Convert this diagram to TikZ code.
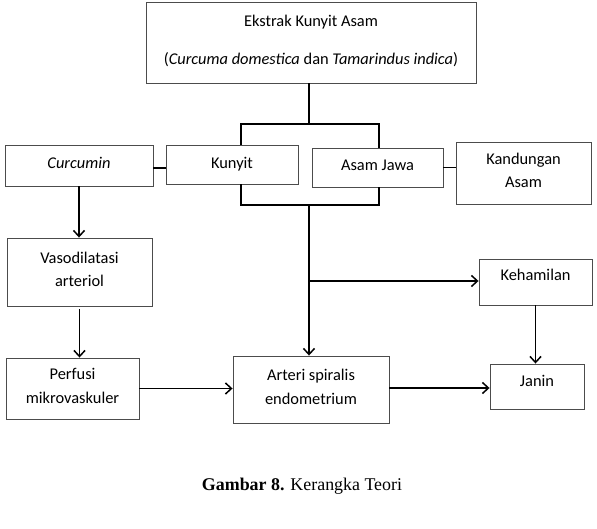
\documentclass[tikz,border=0pt]{standalone}
\usepackage{fontspec}
\setmainfont{Carlito}
\newfontfamily\judulfont{Liberation Serif}
\usetikzlibrary{positioning}
\usetikzlibrary{arrows.meta}

\tikzset{
	kotak/.style={draw=black!70, line width=0.9pt, align=center, inner sep=2pt,
		font=\fontsize{16.4}{23.5}\selectfont, text depth=5pt},
	garis/.style={line width=1.5pt},
	panah/.style={line width=1.5pt, -{Straight Barb[length=6pt,width=11pt]}},
}

\begin{document}
\begin{tikzpicture}[x=1pt, y=-1pt]
				\useasboundingbox (0,0) rectangle (597,529);
				
				\node[kotak, minimum width=330pt, minimum height=81pt] (ekstrak) at (311,42.5) {Ekstrak Kunyit Asam\\[14.5pt](\textit{Curcuma domestica} dan \textit{Tamarindus indica})};
				\node[kotak, minimum width=148pt, minimum height=41pt] (curc) at (79,165.5) {\textit{Curcumin}};
				\node[kotak, minimum width=132pt, minimum height=39pt, text depth=3pt] (kunyit) at (232,164.5) {Kunyit};
				\node[kotak, minimum width=131pt, minimum height=39pt] (asam) at (377.5,167.5) {Asam Jawa};
				\node[kotak, minimum width=135pt, minimum height=62pt] (kand) at (523.5,173) {Kandungan\\Asam};
				\node[kotak, minimum width=145pt, minimum height=68pt] (vaso) at (79.5,272) {Vasodilatasi\\arteriol};
				\node[kotak, minimum width=133pt, minimum height=61pt] (perf) at (72.5,388.5) {Perfusi\\mikrovaskuler};
				\node[kotak, minimum width=156pt, minimum height=67pt] (arteri) at (311,389.5) {Arteri spiralis\\endometrium};
				\node[kotak, minimum width=113pt, minimum height=46pt, text depth=14pt] (hamil) at (535.5,282) {Kehamilan};
				\node[kotak, minimum width=94pt, minimum height=45pt, text depth=12pt] (janin) at (537,386.5) {Janin};
				
				\node[font=\judulfont\fontsize{17.9}{20}\selectfont] (judul) at (302,486) {\textbf{Gambar 8.} Kerangka Teori};
				
				\coordinate (pisah) at (309,124);
				\coordinate (pisahL) at (241,124);
				\coordinate (pisahR) at (379,124);
				\coordinate (gabung) at (309,205);
				\coordinate (gabungL) at (241,205);
				\coordinate (gabungR) at (379,205);
				\coordinate (cabang) at (309,281);
				
				\draw[garis]  (ekstrak.south -| pisah) -- (pisah);
				\draw[garis]  (pisahL |- kunyit.north) -- (pisahL) -- (pisahR) -- (pisahR |- asam.north);
				\draw[garis]  (gabungL |- kunyit.south) -- (gabungL) -- (gabungR) -- (gabungR |- asam.south);
				\draw[garis]  ([yshift=-2.5pt]curc.east) -- ([yshift=-2.5pt]curc.east -| kunyit.west);
				\draw[garis]  (asam.east) -- (asam.east -| kand.west);
				\draw[panah]  (gabung) -- (gabung |- arteri.north);
				\draw[panah]  (cabang) -- (cabang -| hamil.west);
				\draw[panah]  (curc.south) -- (curc.south |- vaso.north);
				\draw[panah]  ([yshift=-3pt]vaso.south) -- (vaso.south |- perf.north);
				\draw[panah]  (perf.east) -- (perf.east -| arteri.west);
				\draw[panah]  ([yshift=1.5pt]arteri.east) -- ([yshift=1.5pt]arteri.east -| janin.west);
				\draw[panah]  (hamil.south) -- (hamil.south |- janin.north);
			\end{tikzpicture}
\end{document}
